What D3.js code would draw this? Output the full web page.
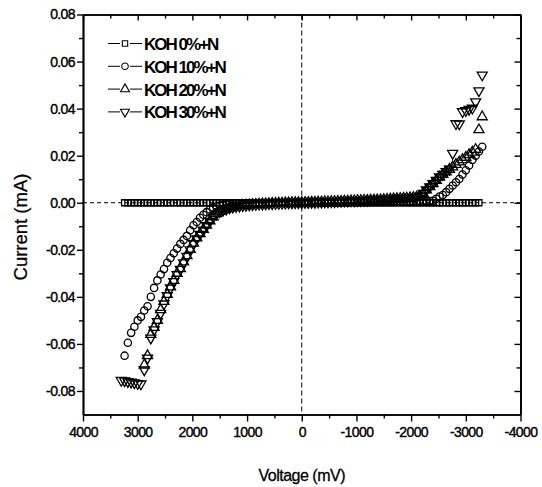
<!DOCTYPE html>
<html>
<head>
<meta charset="utf-8">
<script src="https://cdn.jsdelivr.net/npm/d3@7"></script>
<style>
  body { margin: 0; background: #fff; }
  svg { display: block; font-family: 'Liberation Sans', Arial, sans-serif; }
</style>
</head>
<body>
<div id="iv-chart"></div>
<script>
// voltage sweep (mV), shared by all four samples
let voltage = [
  3300, 3240, 3180, 3120, 3060, 3000, 2940, 2880, 2820, 2760,
  2700, 2640, 2580, 2520, 2460, 2400, 2340, 2280, 2220, 2160,
  2100, 2040, 1980, 1920, 1860, 1800, 1740, 1680, 1620, 1560,
  1500, 1440, 1380, 1320, 1260, 1200, 1140, 1080, 1020, 960,
  900, 840, 780, 720, 660, 600, 540, 480, 420, 360,
  300, 240, 180, 120, 60, 0, -60, -120, -180, -240,
  -300, -360, -420, -480, -540, -600, -660, -720, -780, -840,
  -900, -960, -1020, -1080, -1140, -1200, -1260, -1320, -1380, -1440,
  -1500, -1560, -1620, -1680, -1740, -1800, -1860, -1920, -1980, -2040,
  -2100, -2160, -2220, -2280, -2340, -2400, -2460, -2520, -2580, -2640,
  -2700, -2760, -2820, -2880, -2940, -3000, -3060, -3120, -3180, -3240,
  -3300
]

// current (mA), null = no point
let koh0 = [
  null, 0, 0, 0, 0, 0, 0, 0, 0, 0,
  0, 0, 0, 0, 0, 0, 0, 0, 0, 0,
  0, 0, 0, 0, 0, 0, 0, 0, 0, 0,
  0, 0, 0, 0, 0, 0, 0, 0, 0, 0,
  0, 0, 0, 0, 0, 0, 0, 0, 0, 0,
  0, 0, 0, 0, 0, 0, 0, 0, 0, 0,
  0, 0, 0, 0, 0, 0, 0, 0, 0, 0,
  0, 0, 0, 0, 0, 0, 0, 0, 0, 0,
  0, 0, 0, 0, 0, 0, 0, 0, 0, 0,
  0, 0, 0, 0, 0, 0, 0, 0, 0, 0,
  0, 0, 0, 0, 0, 0, 0, 0, 0, 0,
  null
]

let koh10 = [
  null, -0.0650, -0.0595, -0.0553, -0.0527, -0.0500, -0.0485, -0.0458, -0.0440, -0.0400,
  -0.0362, -0.0330, -0.0305, -0.0282, -0.0255, -0.0235, -0.0215, -0.0195, -0.0175, -0.0158,
  -0.0141, -0.0117, -0.0096, -0.0082, -0.0064, -0.0051, -0.0040, -0.0029, -0.0021, -0.0015,
  -0.0012, -0.0009, -0.0007, -0.0006, -0.0005, -0.0004, -0.0004, -0.0003, -0.0003, -0.0003,
  -0.0002, -0.0002, -0.0002, -0.0002, -0.0001, -0.0001, -0.0001, -0.0001, -0.0001, 0,
  0, 0, 0, 0, 0, 0, 0, 0, 0.0001, 0.0001,
  0.0001, 0.0001, 0.0001, 0.0001, 0.0002, 0.0002, 0.0002, 0.0002, 0.0002, 0.0002,
  0.0003, 0.0003, 0.0003, 0.0003, 0.0003, 0.0003, 0.0004, 0.0004, 0.0004, 0.0004,
  0.0004, 0.0004, 0.0004, 0.0005, 0.0005, 0.0005, 0.0005, 0.0005, 0.0006, 0.0006,
  0.0006, 0.0007, 0.0007, 0.0007, 0.0007, 0.0008, 0.0017, 0.0026, 0.0033, 0.0045,
  0.0059, 0.0073, 0.0087, 0.0101, 0.0120, 0.0138, 0.0158, 0.0182, 0.0200, 0.0218,
  0.0238
]

let koh20 = [
  null, null, null, null, null, null, null, -0.0690, -0.0650, -0.0560,
  -0.0530, -0.0500, -0.0455, -0.0420, -0.0390, -0.0358, -0.0330, -0.0300, -0.0280, -0.0252,
  -0.0225, -0.0198, -0.0172, -0.0150, -0.0132, -0.0114, -0.0095, -0.0077, -0.0060, -0.0047,
  -0.0037, -0.0030, -0.0025, -0.0021, -0.0018, -0.0015, -0.0013, -0.0011, -0.0010, -0.0009,
  -0.0008, -0.0007, -0.0006, -0.0005, -0.0005, -0.0004, -0.0003, -0.0003, -0.0002, -0.0002,
  -0.0001, -0.0001, 0, 0, 0, 0, 0.0001, 0.0001, 0.0002, 0.0002,
  0.0003, 0.0003, 0.0004, 0.0004, 0.0005, 0.0005, 0.0006, 0.0006, 0.0007, 0.0007,
  0.0008, 0.0008, 0.0009, 0.0009, 0.0010, 0.0010, 0.0011, 0.0011, 0.0012, 0.0012,
  0.0013, 0.0014, 0.0015, 0.0016, 0.0017, 0.0018, 0.0019, 0.0020, 0.0021, 0.0022,
  0.0024, 0.0026, 0.0040, 0.0054, 0.0068, 0.0081, 0.0095, 0.0109, 0.0120, 0.0131,
  0.0142, 0.0152, 0.0163, 0.0173, 0.0183, 0.0193, 0.0204, 0.0215, 0.0226, 0.0310,
  0.0365
]

let koh30 = [
  -0.0755, -0.0757, -0.0760, -0.0762, -0.0765, -0.0768, -0.0770, -0.0710, -0.0660, -0.0575,
  -0.0540, -0.0505, -0.0470, -0.0430, -0.0395, -0.0362, -0.0335, -0.0305, -0.0283, -0.0255,
  -0.0228, -0.0200, -0.0173, -0.0153, -0.0134, -0.0116, -0.0097, -0.0079, -0.0061, -0.0048,
  -0.0038, -0.0032, -0.0027, -0.0022, -0.0019, -0.0016, -0.0014, -0.0012, -0.0011, -0.0009,
  -0.0008, -0.0007, -0.0006, -0.0006, -0.0005, -0.0004, -0.0004, -0.0003, -0.0003, -0.0002,
  -0.0002, -0.0001, -0.0001, 0, 0, 0, 0.0001, 0.0001, 0.0002, 0.0002,
  0.0003, 0.0003, 0.0004, 0.0004, 0.0005, 0.0005, 0.0006, 0.0006, 0.0007, 0.0007,
  0.0008, 0.0008, 0.0009, 0.0009, 0.0010, 0.0010, 0.0011, 0.0011, 0.0012, 0.0013,
  0.0013, 0.0014, 0.0015, 0.0016, 0.0017, 0.0018, 0.0019, 0.0020, 0.0021, 0.0022,
  0.0024, 0.0027, 0.0040, 0.0055, 0.0068, 0.0082, 0.0095, 0.0110, 0.0121, 0.0132,
  0.0143, 0.0210, 0.0336, 0.0335, 0.0387, 0.0392, 0.0397, 0.0402, 0.0429, 0.0476,
  0.0543
]

let seriesNames = ['KOH 0%+N', 'KOH 10%+N', 'KOH 20%+N', 'KOH 30%+N']
let xTicks = [4000, 3000, 2000, 1000, 0, -1000, -2000, -3000, -4000]
let xMinorTicks = [3500, 2500, 1500, 500, -500, -1500, -2500, -3500]
let yTicks = [0.08, 0.06, 0.04, 0.02, 0, -0.02, -0.04, -0.06, -0.08]
let yMinorTicks = [0.07, 0.05, 0.03, 0.01, -0.01, -0.03, -0.05, -0.07]

let width = 542,
  height = 487,
  margin = {
    top: 14.5,
    right: 21.5,
    bottom: 72.5,
    left: 83
  },
  majorTick = 6, // major tick length
  minorTick = 4, // minor tick length
  legendX = 108, // left end of legend line
  legendY = 43.5, // first legend row
  legendStep = 22.8 // row spacing

let x = d3.scaleLinear()
  .domain([4000, -4000])
  .range([margin.left, width - margin.right])

let y = d3.scaleLinear()
  .domain([-0.09, 0.08])
  .range([height - margin.bottom, margin.top])

let symbolTypes = [d3.symbolSquare, d3.symbolCircle, d3.symbolTriangle, d3.symbolTriangle]
let symbolSizes = [36, 42, 44, 44]
let symbolTurn = [0, 0, 0, 180] // down triangle for 30%

let svg = d3.select('#iv-chart').append('svg')
  .attr('width', width)
  .attr('height', height)

// dashed zero lines
svg.append('line')
  .attr('x1', x(4000))
  .attr('x2', x(-4000))
  .attr('y1', y(0))
  .attr('y2', y(0))
  .attr('stroke', '#000')
  .attr('stroke-dasharray', '4,3')

svg.append('line')
  .attr('x1', x(0))
  .attr('x2', x(0))
  .attr('y1', y(0.08))
  .attr('y2', y(-0.09))
  .attr('stroke', '#000')
  .attr('stroke-dasharray', '5,3')

// markers
let currents = [koh0, koh10, koh20, koh30]
let points = []
currents.forEach(function (vals, s) {
  voltage.forEach(function (v, i) {
    if (vals[i] !== null) points.push({ v: v, c: vals[i], s: s })
  })
})

svg.append('g').selectAll('.marker')
  .data(points)
  .enter().append('path')
  .attr('class', 'marker')
  .attr('transform', function (d) {
    return 'translate(' + x(d.v) + ',' + y(d.c) + ') rotate(' + symbolTurn[d.s] + ')'
  })
  .attr('d', function (d) {
    return d3.symbol().type(symbolTypes[d.s]).size(symbolSizes[d.s])()
  })
  .attr('fill', 'none')
  .attr('stroke', '#000')
  .attr('stroke-width', 1.3)

// axes
function styleAxis(g) {
  g.select('.domain').attr('stroke', '#000').attr('stroke-width', 1.7)
  g.selectAll('.tick line').attr('stroke', '#000').attr('stroke-width', 1.4)
  g.selectAll('.tick text')
    .attr('fill', '#000')
    .attr('stroke', '#000')
    .attr('stroke-width', 0.4)
    .attr('font-size', '14px')
    .attr('letter-spacing', '-0.6px')
}

let yBottom = height - margin.bottom,
  xRight = width - margin.right

svg.append('g')
  .attr('transform', 'translate(0,' + yBottom + ')')
  .call(d3.axisBottom(x).tickValues(xTicks).tickSize(majorTick + 1).tickSizeOuter(0).tickPadding(6)
    .tickFormat(function (d) { return String(d) }))
  .call(styleAxis)

svg.append('g')
  .attr('transform', 'translate(0,' + yBottom + ')')
  .call(d3.axisBottom(x).tickValues(xMinorTicks).tickSize(minorTick).tickSizeOuter(0).tickFormat(''))
  .call(styleAxis)

svg.append('g')
  .attr('transform', 'translate(' + margin.left + ',0)')
  .call(d3.axisLeft(y).tickValues(yTicks).tickSize(majorTick).tickSizeOuter(0).tickPadding(2)
    .tickFormat(function (d) { return d.toFixed(2) }))
  .call(styleAxis)

svg.append('g')
  .attr('transform', 'translate(' + margin.left + ',0)')
  .call(d3.axisLeft(y).tickValues(yMinorTicks).tickSize(minorTick).tickSizeOuter(0).tickFormat(''))
  .call(styleAxis)

// top and right: ticks pointing inward, no labels
svg.append('g')
  .attr('transform', 'translate(0,' + margin.top + ')')
  .call(d3.axisTop(x).tickValues(xTicks).tickSize(-majorTick).tickSizeOuter(0).tickFormat(''))
  .call(styleAxis)

svg.append('g')
  .attr('transform', 'translate(0,' + margin.top + ')')
  .call(d3.axisTop(x).tickValues(xMinorTicks).tickSize(-minorTick).tickSizeOuter(0).tickFormat(''))
  .call(styleAxis)

svg.append('g')
  .attr('transform', 'translate(' + xRight + ',0)')
  .call(d3.axisRight(y).tickValues(yTicks).tickSize(-majorTick).tickSizeOuter(0).tickFormat(''))
  .call(styleAxis)

svg.append('g')
  .attr('transform', 'translate(' + xRight + ',0)')
  .call(d3.axisRight(y).tickValues(yMinorTicks).tickSize(-minorTick).tickSizeOuter(0).tickFormat(''))
  .call(styleAxis)

// axis titles
svg.append('text')
  .attr('x', x(0))
  .attr('y', 481)
  .attr('text-anchor', 'middle')
  .attr('font-size', '16px')
  .attr('letter-spacing', '-0.5px')
  .attr('fill', '#000')
  .attr('stroke', '#000')
  .attr('stroke-width', 0.3)
  .text('Voltage (mV)')

svg.append('text')
  .attr('transform', 'translate(27,' + 227 + ') rotate(-90)')
  .attr('text-anchor', 'middle')
  .attr('font-size', '18.5px')
  .attr('fill', '#000')
  .attr('stroke', '#000')
  .attr('stroke-width', 0.3)
  .text('Current (mA)')

// legend
let legend = svg.append('g').selectAll('.legend-item')
  .data(seriesNames)
  .enter().append('g')
  .attr('class', 'legend-item')
  .attr('transform', function (d, i) {
    return 'translate(0,' + (legendY + i * legendStep) + ')'
  })

legend.append('line')
  .attr('x1', legendX)
  .attr('x2', legendX + 12)
  .attr('stroke', '#000')

legend.append('line')
  .attr('x1', legendX + 22)
  .attr('x2', legendX + 34)
  .attr('stroke', '#000')

legend.append('path')
  .attr('transform', function (d, i) {
    return 'translate(' + (legendX + 17) + ',0) rotate(' + symbolTurn[i] + ')'
  })
  .attr('d', function (d, i) {
    return d3.symbol().type(symbolTypes[i]).size(symbolSizes[i] * 0.8)()
  })
  .attr('fill', 'none')
  .attr('stroke', '#000')
  .attr('stroke-width', 1.1)

legend.append('text')
  .attr('x', legendX + 36)
  .attr('y', 6.5)
  .attr('font-size', '17px')
  .attr('font-weight', 'bold')
  .attr('letter-spacing', '-2px')
  .attr('fill', '#000')
  .text(function (d) { return d })
</script>
</body>
</html>
